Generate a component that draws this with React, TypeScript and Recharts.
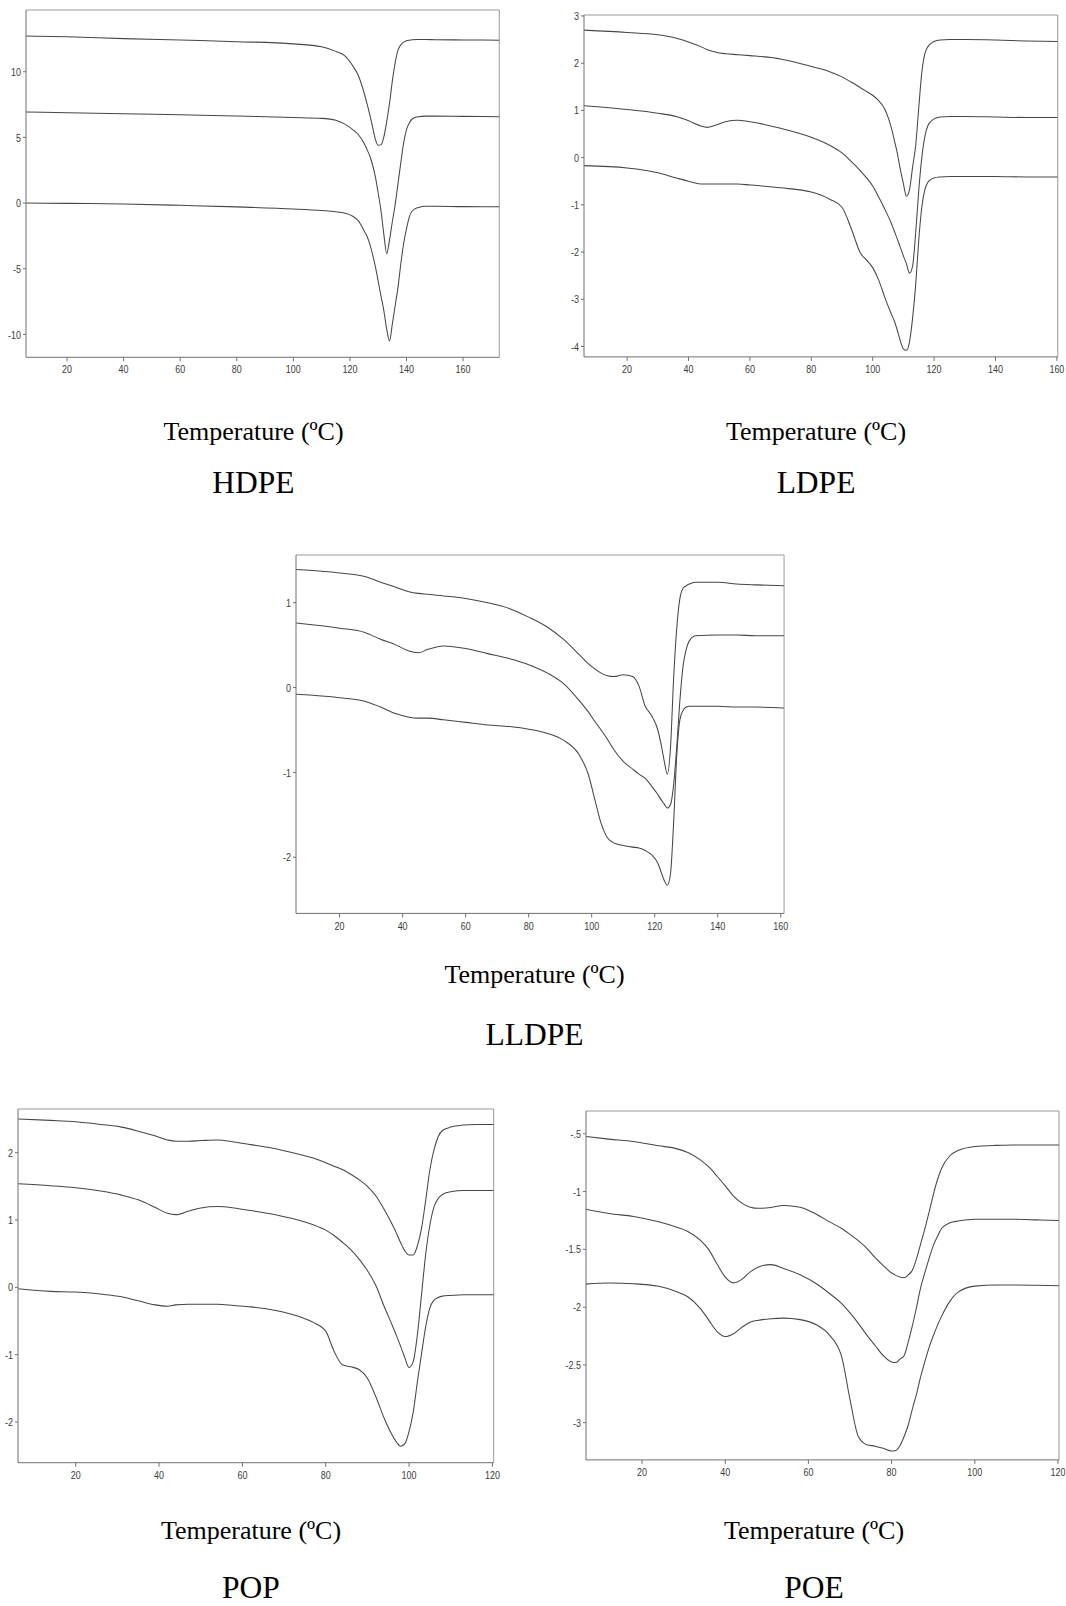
import React from "react";
import { LineChart, Line, XAxis, YAxis, ReferenceLine } from "recharts";

// ---------- HDPE (three DSC runs) ----------
const hdpeTemp = [5.5, 20, 40, 60, 80, 100, 110, 115, 118, 121, 123, 125, 126, 127, 128, 129, 130, 131, 132, 133, 134, 135, 136, 137, 138, 139, 140, 141, 142, 144, 147, 150, 160, 172.8];
const hdpeUpper = [12.72, 12.66, 12.52, 12.41, 12.29, 12.12, 11.9, 11.55, 11.25, 10.45, 9.7, 8.4, 7.6, 6.75, 5.8, 4.85, 4.4, 4.45, 5.05, 6.2, 7.6, 9.3, 10.7, 11.65, 12.05, 12.25, 12.35, 12.4, 12.43, 12.45, 12.45, 12.44, 12.42, 12.4];
const hdpeMiddle = [6.93, 6.88, 6.8, 6.73, 6.63, 6.52, 6.45, 6.3, 6.03, 5.6, 5.2, 4.55, 4.1, 3.6, 2.9, 2.0, 0.75, -0.6, -2.4, -3.85, -2.8, -1.4, -0.1, 1.5, 3.1, 4.6, 5.6, 6.1, 6.4, 6.58, 6.62, 6.62, 6.6, 6.58];
const hdpeLower = [0.0, -0.02, -0.07, -0.17, -0.29, -0.45, -0.57, -0.66, -0.76, -1.0, -1.35, -2.1, -2.5, -3.1, -3.9, -4.84, -5.95, -7.1, -8.2, -9.6, -10.5, -9.2, -7.8, -6.4, -4.6, -3.06, -1.95, -1.05, -0.6, -0.35, -0.24, -0.24, -0.27, -0.28];

// ---------- LDPE ----------
const ldpeTemp = [6, 20, 30, 36, 40, 44, 46, 49, 52, 56, 60, 70, 80, 86, 90, 93, 96, 98, 100, 102, 104, 106, 107, 108, 109, 110, 111, 112, 113, 114, 115, 116, 117, 118, 119, 120, 122, 125, 130, 140, 150, 160.3];
const ldpeUpper = [2.7, 2.65, 2.6, 2.53, 2.45, 2.35, 2.29, 2.23, 2.2, 2.18, 2.16, 2.09, 1.93, 1.82, 1.71, 1.6, 1.48, 1.4, 1.32, 1.2, 1.02, 0.65, 0.38, 0.1, -0.25, -0.55, -0.82, -0.68, -0.2, 0.25, 1.05, 1.8, 2.2, 2.35, 2.42, 2.46, 2.49, 2.5, 2.5, 2.49, 2.47, 2.46];
const ldpeMiddle = [1.1, 1.02, 0.94, 0.87, 0.78, 0.67, 0.64, 0.69, 0.76, 0.79, 0.76, 0.62, 0.43, 0.26, 0.1, -0.08, -0.28, -0.43, -0.6, -0.84, -1.1, -1.38, -1.55, -1.72, -1.9, -2.08, -2.25, -2.45, -2.3, -1.6, -0.7, 0.0, 0.45, 0.68, 0.77, 0.82, 0.86, 0.87, 0.87, 0.86, 0.85, 0.85];
const ldpeLower = [-0.17, -0.22, -0.32, -0.43, -0.5, -0.56, -0.56, -0.56, -0.56, -0.56, -0.58, -0.64, -0.73, -0.88, -1.05, -1.5, -2.02, -2.17, -2.33, -2.6, -2.97, -3.3, -3.45, -3.65, -3.88, -4.05, -4.08, -3.9, -3.4, -2.7, -1.75, -1.05, -0.68, -0.52, -0.46, -0.43, -0.41, -0.4, -0.4, -0.4, -0.41, -0.41];

// ---------- LLDPE ----------
const lldpeTemp = [6.2, 20, 28, 33, 38, 42, 45, 48, 53, 60, 67, 74, 80, 86, 91, 96, 99, 101, 103, 105, 107, 110, 113, 115, 117, 119, 121, 122, 123, 124, 125, 126, 127, 128, 129, 130, 131, 133, 140, 146, 152, 161];
const lldpeUpper = [1.39, 1.35, 1.31, 1.24, 1.18, 1.13, 1.11, 1.1, 1.08, 1.05, 1.0, 0.93, 0.83, 0.71, 0.57, 0.39, 0.28, 0.22, 0.17, 0.14, 0.13, 0.15, 0.13, 0.02, -0.22, -0.33, -0.5, -0.66, -0.86, -1.02, -0.72, 0.1, 0.7, 1.05, 1.17, 1.2, 1.22, 1.24, 1.24, 1.22, 1.21, 1.2];
const lldpeMiddle = [0.76, 0.7, 0.65, 0.57, 0.5, 0.43, 0.41, 0.45, 0.49, 0.46, 0.4, 0.34, 0.27, 0.17, 0.05, -0.15, -0.29, -0.4, -0.5, -0.61, -0.73, -0.87, -0.96, -1.02, -1.07, -1.16, -1.26, -1.32, -1.37, -1.42, -1.38, -1.15, -0.7, -0.15, 0.25, 0.45, 0.55, 0.61, 0.62, 0.62, 0.61, 0.61];
const lldpeLower = [-0.08, -0.12, -0.16, -0.23, -0.31, -0.35, -0.36, -0.36, -0.38, -0.41, -0.44, -0.46, -0.49, -0.54, -0.62, -0.79, -1.03, -1.32, -1.6, -1.77, -1.83, -1.86, -1.88, -1.89, -1.92, -1.97, -2.07, -2.17, -2.27, -2.33, -2.2, -1.6, -0.8, -0.38, -0.27, -0.23, -0.22, -0.22, -0.22, -0.23, -0.23, -0.24];

// ---------- POP ----------
const popTemp = [6.2, 14, 20, 26, 31, 35, 39, 42, 44, 47, 50, 54, 58, 62, 66, 70, 74, 77, 80, 82, 84, 86, 88, 90, 92, 94, 96, 97, 98, 99, 100, 101, 102, 103, 104, 105, 106, 107, 108, 110, 113, 116, 120.3];
const popUpper = [2.5, 2.48, 2.46, 2.42, 2.38, 2.32, 2.25, 2.19, 2.17, 2.17, 2.18, 2.19, 2.16, 2.12, 2.08, 2.03, 1.97, 1.92, 1.85, 1.8, 1.75, 1.68, 1.6, 1.5, 1.36, 1.16, 0.93, 0.8, 0.66, 0.54, 0.48, 0.48, 0.62, 0.88, 1.3, 1.75, 2.05, 2.24, 2.33, 2.38, 2.41, 2.42, 2.42];
const popMiddle = [1.54, 1.51, 1.48, 1.43, 1.37, 1.3, 1.19, 1.1, 1.08, 1.13, 1.18, 1.2, 1.18, 1.14, 1.1, 1.05, 0.99, 0.93, 0.85, 0.77, 0.67, 0.56, 0.42, 0.25, 0.03, -0.28, -0.57, -0.72, -0.88, -1.05, -1.19, -1.1, -0.7, -0.1, 0.5, 0.93, 1.2, 1.32, 1.38, 1.42, 1.44, 1.44, 1.44];
const popLower = [-0.02, -0.06, -0.07, -0.1, -0.14, -0.2, -0.26, -0.28, -0.26, -0.25, -0.25, -0.25, -0.27, -0.29, -0.32, -0.37, -0.44, -0.52, -0.65, -0.95, -1.15, -1.18, -1.22, -1.35, -1.62, -1.94, -2.2, -2.3, -2.36, -2.32, -2.14, -1.85, -1.4, -0.98, -0.58, -0.3, -0.19, -0.15, -0.13, -0.12, -0.11, -0.11, -0.11];

// ---------- POE ----------
const poeTemp = [6.5, 12, 18, 24, 28, 31, 34, 36, 38, 40, 42, 44, 46, 48, 51, 54, 58, 62, 65, 68, 70, 72, 74, 76, 78, 80, 81, 82, 83, 84, 85, 86, 87, 88, 89, 90, 91, 92, 94, 96, 100, 105, 110, 115, 120.2];
const poeUpper = [-0.523, -0.546, -0.567, -0.604, -0.626, -0.662, -0.725, -0.785, -0.865, -0.95, -1.04, -1.1, -1.135, -1.145, -1.137, -1.12, -1.135, -1.198, -1.26, -1.32, -1.37, -1.425, -1.49, -1.57, -1.64, -1.705, -1.725, -1.74, -1.745, -1.72, -1.68, -1.58, -1.45, -1.32, -1.18, -1.03, -0.9, -0.8, -0.69, -0.645, -0.61, -0.6, -0.597, -0.596, -0.596];
const poeMiddle = [-1.153, -1.19, -1.215, -1.262, -1.305, -1.345, -1.42, -1.5, -1.625, -1.74, -1.79, -1.76, -1.695, -1.652, -1.632, -1.665, -1.72, -1.8, -1.88, -1.97, -2.05, -2.14, -2.24, -2.33, -2.42, -2.475, -2.48, -2.45, -2.42, -2.3, -2.16, -2.0, -1.83, -1.7, -1.58, -1.47, -1.39, -1.32, -1.27, -1.255, -1.24, -1.24, -1.24, -1.245, -1.25];
const poeLower = [-1.801, -1.792, -1.798, -1.82, -1.862, -1.91, -2.01, -2.11, -2.21, -2.255, -2.23, -2.175, -2.13, -2.113, -2.1, -2.095, -2.108, -2.155, -2.24, -2.43, -2.8, -3.12, -3.19, -3.203, -3.222, -3.245, -3.24, -3.2, -3.12, -3.02, -2.88, -2.75, -2.6, -2.47, -2.35, -2.25, -2.16, -2.08, -1.95, -1.87, -1.818, -1.808, -1.808, -1.81, -1.815];

// ---------- ticks and captions ----------
const xTicksTo160 = [20, 40, 60, 80, 100, 120, 140, 160];
const xTicksTo120 = [20, 40, 60, 80, 100, 120];
const hdpeYTicks = [-10, -5, 0, 5, 10];
const ldpeYTicks = [-4, -3, -2, -1, 0, 1, 2, 3];
const lldpeYTicks = [-2, -1, 0, 1];
const popYTicks = [-2, -1, 0, 1, 2];
const poeYTicks = [-3, -2.5, -2, -1.5, -1, -0.5];
const axisTitle = "Temperature (ºC)";

type PanelSpec = {
  name: string;
  temp: number[];
  upper: number[];
  middle: number[];
  lower: number[];
  xDomain: [number, number];
  yDomain: [number, number];
  xTicks: number[];
  yTicks: number[];
  plot: { left: number; top: number; right: number; bottom: number };
  caption: { cx: number; axisY: number; nameY: number };
};

const panels: PanelSpec[] = [
  {
    name: "HDPE", temp: hdpeTemp, upper: hdpeUpper, middle: hdpeMiddle, lower: hdpeLower,
    xDomain: [5.5, 172.8], yDomain: [-11.74, 14.7], xTicks: xTicksTo160, yTicks: hdpeYTicks,
    plot: { left: 25.7, top: 10, right: 499, bottom: 357.3 },
    caption: { cx: 253.5, axisY: 440, nameY: 492.5 },
  },
  {
    name: "LDPE", temp: ldpeTemp, upper: ldpeUpper, middle: ldpeMiddle, lower: ldpeLower,
    xDomain: [5.96, 160.3], yDomain: [-4.22, 3.02], xTicks: xTicksTo160, yTicks: ldpeYTicks,
    plot: { left: 583.7, top: 15.4, right: 1057.5, bottom: 357.3 },
    caption: { cx: 816, axisY: 440, nameY: 492.5 },
  },
  {
    name: "LLDPE", temp: lldpeTemp, upper: lldpeUpper, middle: lldpeMiddle, lower: lldpeLower,
    xDomain: [6.16, 161.07], yDomain: [-2.661, 1.562], xTicks: xTicksTo160, yTicks: lldpeYTicks,
    plot: { left: 296.4, top: 555.2, right: 784.5, bottom: 913.6 },
    caption: { cx: 534.5, axisY: 983, nameY: 1044.5 },
  },
  {
    name: "POP", temp: popTemp, upper: popUpper, middle: popMiddle, lower: popLower,
    xDomain: [6.16, 120.3], yDomain: [-2.604, 2.649], xTicks: xTicksTo120, yTicks: popYTicks,
    plot: { left: 18.3, top: 1109, right: 494, bottom: 1462.7 },
    caption: { cx: 251, axisY: 1539, nameY: 1598 },
  },
  {
    name: "POE", temp: poeTemp, upper: poeUpper, middle: poeMiddle, lower: poeLower,
    xDomain: [6.53, 120.24], yDomain: [-3.322, -0.3026], xTicks: xTicksTo120, yTicks: poeYTicks,
    plot: { left: 586.3, top: 1110.7, right: 1059.3, bottom: 1459.6 },
    caption: { cx: 814, axisY: 1539, nameY: 1598 },
  },
];

const AXIS = "#6e6e6e";
const FRAME = "#9a9a9a";
const CURVE = "#464646";
const TICK_TEXT = "#3c3c3c";
const TICK_FONT = "'Liberation Sans', Arial, sans-serif";
const SERIF = "'Liberation Serif', 'Times New Roman', serif";

const PAD_L = 40;
const PAD_T = 8;
const PAD_R = 14;
const PAD_B = 30;

const fmtTick = (v: number) => String(v).replace(/^(-?)0\./, "$1.");

// Narrow, tall tick digits
const XTick = (props: any) => {
  const { x, y, payload } = props;
  return (
    <g transform={`translate(${x},${y})`}>
      <text transform="scale(0.78,1)" textAnchor="middle" dy="0.71em" fontSize={11.5} fill={TICK_TEXT} fontFamily={TICK_FONT}>
        {fmtTick(payload.value)}
      </text>
    </g>
  );
};

const YTick = (props: any) => {
  const { x, y, payload } = props;
  return (
    <g transform={`translate(${x},${y})`}>
      <text transform="scale(0.78,1)" textAnchor="end" dy="0.355em" fontSize={11.5} fill={TICK_TEXT} fontFamily={TICK_FONT}>
        {fmtTick(payload.value)}
      </text>
    </g>
  );
};

const seriesKeys = ["upper", "middle", "lower"] as const;

function Panel({ spec }: { spec: PanelSpec }) {
  const w = spec.plot.right - spec.plot.left;
  const h = spec.plot.bottom - spec.plot.top;
  const rows = spec.temp.map((t, i) => ({
    t,
    upper: spec.upper[i],
    middle: spec.middle[i],
    lower: spec.lower[i],
  }));
  return (
    <div style={{ position: "absolute", left: spec.plot.left - PAD_L, top: spec.plot.top - PAD_T }}>
      <LineChart
        width={w + PAD_L + PAD_R}
        height={h + PAD_T + PAD_B}
        data={rows}
        margin={{ top: PAD_T, right: PAD_R, bottom: 0, left: 0 }}
      >
        <XAxis
          dataKey="t"
          type="number"
          domain={spec.xDomain}
          ticks={spec.xTicks}
          interval={0}
          allowDataOverflow
          height={PAD_B}
          stroke={AXIS}
          tickSize={4}
          tickMargin={4}
          tick={(p: any) => <XTick {...p} />}
        />
        <YAxis
          type="number"
          domain={spec.yDomain}
          ticks={spec.yTicks}
          interval={0}
          allowDataOverflow
          width={PAD_L}
          stroke={AXIS}
          tickSize={3}
          tickMargin={2}
          tick={(p: any) => <YTick {...p} />}
        />
        {/* top and right edges of the plot frame */}
        <ReferenceLine y={spec.yDomain[1]} stroke={FRAME} strokeWidth={1} ifOverflow="visible" />
        <ReferenceLine x={spec.xDomain[1]} stroke={FRAME} strokeWidth={1} ifOverflow="visible" />
        {seriesKeys.map((k) => (
          <Line
            key={k}
            dataKey={k}
            type="monotone"
            stroke={CURVE}
            strokeWidth={1.05}
            dot={false}
            activeDot={false}
            isAnimationActive={false}
          />
        ))}
      </LineChart>
    </div>
  );
}

export default function App() {
  return (
    <div style={{ position: "absolute", left: 0, top: 0, width: 1066, height: 1606, background: "#fff", overflow: "hidden" }}>
      <svg width={1066} height={1606} style={{ position: "absolute", left: 0, top: 0 }}>
        {panels.map((p) => (
          <g key={p.name}>
            <text x={p.caption.cx} y={p.caption.axisY} textAnchor="middle" fontSize={26} fontFamily={SERIF} fill="#000">
              {axisTitle}
            </text>
            <text x={p.caption.cx} y={p.caption.nameY} textAnchor="middle" fontSize={31.5} fontFamily={SERIF} fill="#000">
              {p.name}
            </text>
          </g>
        ))}
      </svg>
      {panels.map((p) => (
        <Panel key={p.name} spec={p} />
      ))}
    </div>
  );
}
